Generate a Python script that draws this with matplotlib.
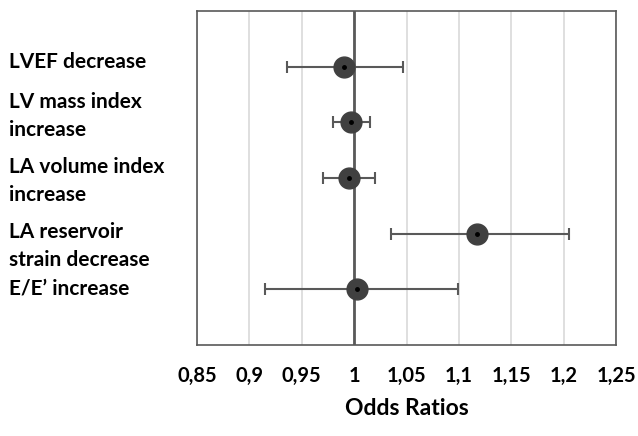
import matplotlib.pyplot as plt
import numpy as np

plt.rcParams['font.family'] = ['Lato', 'DejaVu Sans']

labels = ['LVEF decrease', 'LV mass index\nincrease', 'LA volume index\nincrease',
          'LA reservoir\nstrain decrease', 'E/E\u2019 increase']
odds = [0.990, 0.997, 0.995, 1.117, 1.003]
ci_low = [0.936, 0.980, 0.970, 1.035, 0.915]
ci_high = [1.047, 1.015, 1.020, 1.205, 1.099]
xticks = [0.85, 0.9, 0.95, 1.0, 1.05, 1.1, 1.15, 1.2, 1.25]

W, H = 638, 436
fig = plt.figure(figsize=(W / 100, H / 100), dpi=100)
ax = fig.add_axes([197 / W, 1 - 345 / H, (616 - 197) / W, (345 - 11) / H])

ypos = np.arange(len(labels), 0, -1)
odds = np.array(odds)
err = [odds - np.array(ci_low), np.array(ci_high) - odds]

ax.axvline(1.0, color='#595959', lw=2, zorder=2)
ax.errorbar(odds, ypos, xerr=err, fmt='none', ecolor='#595959', elinewidth=1.5,
            capsize=4, capthick=1.5, zorder=3)
ax.plot(odds, ypos, 'o', color='#404040', ms=15, zorder=4)
ax.plot(odds, ypos, 'o', color='black', ms=2.5, zorder=5)

ax.set_xlim(0.85, 1.25)
ax.set_ylim(0, 6)
ax.set_xticks(xticks)
ax.set_xticklabels([('%g' % t).replace('.', ',') for t in xticks],
                   fontsize=14.5, fontweight='bold')
ax.tick_params(axis='x', length=0, pad=15)
ax.set_yticks([])
ax.grid(axis='x', color='#d9d9d9', lw=1.2, zorder=1)
ax.set_axisbelow(True)
for s in ax.spines.values():
    s.set_color('#595959')
    s.set_linewidth(1.2)

ax.set_xlabel('Odds Ratios', fontsize=16.5, fontweight='bold', labelpad=9)

label_y = [62, 116, 181, 246, 288]
for lab, yy in zip(labels, label_y):
    fig.text(9 / W, 1 - yy / H, lab, ha='left', va='center', fontsize=15,
             fontweight='bold', linespacing=1.55)

plt.savefig('out.png', dpi=100)
